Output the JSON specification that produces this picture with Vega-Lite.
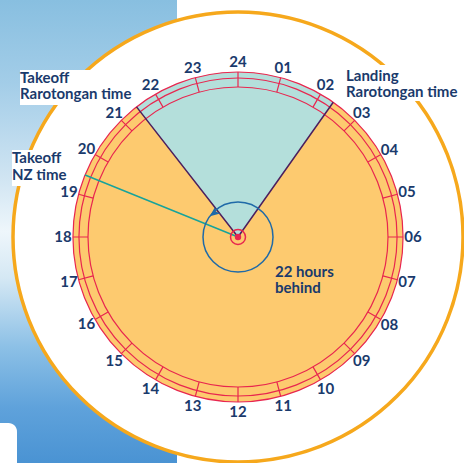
{
  "$schema": "https://vega.github.io/schema/vega-lite/v6.json",
  "width": 452,
  "height": 452,
  "autosize": "none",
  "padding": {"left": 12, "top": 11, "right": 0, "bottom": 0},
  "background": "white",
  "config": {
    "view": {"stroke": null},
    "axis": {"disable": true},
    "legend": {"disable": true},
    "text": {"font": "Lato"}
  },
  "layer": [
    {
      "data": {"values": [{"x": -238, "x2": -61, "y": -226, "y2": 237}]},
      "mark": {"type": "rect", "color": {"gradient": "linear", "x1": 0, "y1": 1, "x2": 0, "y2": 0, "stops": [
        {"offset": 0, "color": "#4a93d3"},
        {"offset": 0.12, "color": "#5fa2db"},
        {"offset": 0.25, "color": "#8cc0e6"},
        {"offset": 0.4, "color": "#d5e8f4"},
        {"offset": 0.5, "color": "#eef6fb"},
        {"offset": 0.62, "color": "#cfe4f2"},
        {"offset": 0.82, "color": "#a3cde8"},
        {"offset": 1, "color": "#88bfe0"}
      ]}},
      "encoding": {
        "x": {"field": "x", "type": "quantitative", "scale": {"domain": [-226, 226], "nice": false, "zero": false}, "axis": null},
        "y": {"field": "y", "type": "quantitative", "scale": {"domain": [-226, 226], "nice": false, "zero": false}, "axis": null},
        "x2": {"field": "x2"}, "y2": {"field": "y2"}
      }
    },
    {
      "data": {"values": [{"x": -238, "x2": -221, "y": -226, "y2": -186}]},
      "mark": {"type": "rect", "color": "white", "cornerRadiusTopRight": 16},
      "encoding": {
        "x": {"field": "x", "type": "quantitative", "scale": {"domain": [-226, 226], "nice": false, "zero": false}, "axis": null},
        "y": {"field": "y", "type": "quantitative", "scale": {"domain": [-226, 226], "nice": false, "zero": false}, "axis": null},
        "x2": {"field": "x2"}, "y2": {"field": "y2"}
      }
    },
    {
      "data": {"values": [{"r": 225}]},
      "mark": {"type": "arc", "fill": "white", "stroke": "#f6a81c", "strokeWidth": 3.5},
      "encoding": {
        "theta": {"datum": 0, "type": "quantitative", "scale": {"domain": [0, 24], "range": [0, 6.28319]}},
        "theta2": {"datum": 24},
        "radius": {"field": "r", "type": "quantitative", "stack": null, "scale": {"type": "linear", "domain": [0, 231.5], "range": [0, 231.5], "zero": true, "nice": false}}
      }
    },
    {
      "data": {"values": [
        {"x": -218, "x2": -103, "y": 167, "y2": 132},
        {"x": 106, "x2": 226, "y": 172, "y2": 136},
        {"x": -226, "x2": -172, "y": 87, "y2": 51}
      ]},
      "mark": {"type": "rect", "color": "white"},
      "encoding": {
        "x": {"field": "x", "type": "quantitative", "scale": {"domain": [-226, 226], "nice": false, "zero": false}, "axis": null},
        "y": {"field": "y", "type": "quantitative", "scale": {"domain": [-226, 226], "nice": false, "zero": false}, "axis": null},
        "x2": {"field": "x2"}, "y2": {"field": "y2"}
      }
    },
    {
      "data": {"values": [{"r": 165}]},
      "mark": {"type": "arc", "color": "#fdca6f"},
      "encoding": {
        "theta": {"datum": 0, "type": "quantitative", "scale": {"domain": [0, 24], "range": [0, 6.28319]}},
        "theta2": {"datum": 24},
        "radius": {"field": "r", "type": "quantitative", "stack": null, "scale": {"type": "linear", "domain": [0, 231.5], "range": [0, 231.5], "zero": true, "nice": false}}
      }
    },
    {
      "data": {"values": [{"start": 21.47, "end": 26.35, "r": 165}]},
      "mark": {"type": "arc", "color": "#b4dfdb"},
      "encoding": {
        "theta": {"field": "start", "type": "quantitative", "scale": {"domain": [0, 24], "range": [0, 6.28319]}, "stack": null},
        "theta2": {"field": "end"},
        "radius": {"field": "r", "type": "quantitative", "stack": null, "scale": {"type": "linear", "domain": [0, 231.5], "range": [0, 231.5], "zero": true, "nice": false}}
      }
    },
    {
      "data": {"values": [{"r": 150}, {"r": 159}, {"r": 165}]},
      "mark": {"type": "arc", "filled": false, "color": "#e8264f", "strokeWidth": 1.2},
      "encoding": {
        "theta": {"datum": 0, "type": "quantitative", "scale": {"domain": [0, 24], "range": [0, 6.28319]}},
        "theta2": {"datum": 24},
        "radius": {"field": "r", "type": "quantitative", "stack": null, "scale": {"type": "linear", "domain": [0, 231.5], "range": [0, 231.5], "zero": true, "nice": false}}
      }
    },
    {
      "data": {"values": [
        {"h": 0}, {"h": 1}, {"h": 2}, {"h": 3}, {"h": 4}, {"h": 5}, {"h": 6}, {"h": 7},
        {"h": 8}, {"h": 9}, {"h": 10}, {"h": 11}, {"h": 12}, {"h": 13}, {"h": 14}, {"h": 15},
        {"h": 16}, {"h": 17}, {"h": 18}, {"h": 19}, {"h": 20}, {"h": 21}, {"h": 22}, {"h": 23}
      ]},
      "mark": {"type": "arc", "filled": false, "color": "#e8264f", "strokeWidth": 1.2},
      "encoding": {
        "theta": {"field": "h", "type": "quantitative", "scale": {"domain": [0, 24], "range": [0, 6.28319]}, "stack": null},
        "theta2": {"field": "h"},
        "radius": {"datum": 165, "type": "quantitative", "scale": {"type": "linear", "domain": [0, 231.5], "range": [0, 231.5], "zero": true, "nice": false}},
        "radius2": {"datum": 150}
      }
    },
    {
      "data": {"values": [
        {"t": 21.47, "kind": "Rarotongan time"},
        {"t": 2.35, "kind": "Rarotongan time"},
        {"t": 19.47, "kind": "NZ time"}
      ]},
      "mark": {"type": "arc", "filled": false, "strokeWidth": 1.5},
      "encoding": {
        "theta": {"field": "t", "type": "quantitative", "scale": {"domain": [0, 24], "range": [0, 6.28319]}, "stack": null},
        "theta2": {"field": "t"},
        "radius": {"datum": 165, "type": "quantitative", "scale": {"type": "linear", "domain": [0, 231.5], "range": [0, 231.5], "zero": true, "nice": false}},
        "radius2": {"datum": 0},
        "color": {"field": "kind", "type": "nominal", "scale": {"domain": ["Rarotongan time", "NZ time"], "range": ["#4b1f5e", "#17a39b"]}, "legend": null}
      }
    },
    {
      "data": {"values": [{"r": 35}]},
      "mark": {"type": "arc", "filled": false, "color": "#1f6aa8", "strokeWidth": 1.5},
      "encoding": {
        "theta": {"datum": 0, "type": "quantitative", "scale": {"domain": [0, 24], "range": [0, 6.28319]}},
        "theta2": {"datum": 24},
        "radius": {"field": "r", "type": "quantitative", "stack": null, "scale": {"type": "linear", "domain": [0, 231.5], "range": [0, 231.5], "zero": true, "nice": false}}
      }
    },
    {
      "data": {"values": [{"x": -24, "y": 24}]},
      "mark": {"type": "point", "shape": "M0,-1L0.8,0.9L0,0.45L-0.8,0.9Z", "filled": true, "opacity": 1, "color": "#1f6aa8", "size": 110, "angle": 232},
      "encoding": {
        "x": {"field": "x", "type": "quantitative", "scale": {"domain": [-226, 226], "nice": false, "zero": false}, "axis": null},
        "y": {"field": "y", "type": "quantitative", "scale": {"domain": [-226, 226], "nice": false, "zero": false}, "axis": null}
      }
    },
    {
      "data": {"values": [{"r": 7.5}]},
      "mark": {"type": "arc", "filled": false, "color": "#e8264f", "strokeWidth": 1.5},
      "encoding": {
        "theta": {"datum": 0, "type": "quantitative", "scale": {"domain": [0, 24], "range": [0, 6.28319]}},
        "theta2": {"datum": 24},
        "radius": {"field": "r", "type": "quantitative", "stack": null, "scale": {"type": "linear", "domain": [0, 231.5], "range": [0, 231.5], "zero": true, "nice": false}}
      }
    },
    {
      "data": {"values": [{"r": 3.2}]},
      "mark": {"type": "arc", "color": "#e8264f"},
      "encoding": {
        "theta": {"datum": 0, "type": "quantitative", "scale": {"domain": [0, 24], "range": [0, 6.28319]}},
        "theta2": {"datum": 24},
        "radius": {"field": "r", "type": "quantitative", "stack": null, "scale": {"type": "linear", "domain": [0, 231.5], "range": [0, 231.5], "zero": true, "nice": false}}
      }
    },
    {
      "data": {"values": [
        {"h": 1, "label": "01"}, {"h": 2, "label": "02"}, {"h": 3, "label": "03"}, {"h": 4, "label": "04"},
        {"h": 5, "label": "05"}, {"h": 6, "label": "06"}, {"h": 7, "label": "07"}, {"h": 8, "label": "08"},
        {"h": 9, "label": "09"}, {"h": 10, "label": "10"}, {"h": 11, "label": "11"}, {"h": 12, "label": "12"},
        {"h": 13, "label": "13"}, {"h": 14, "label": "14"}, {"h": 15, "label": "15"}, {"h": 16, "label": "16"},
        {"h": 17, "label": "17"}, {"h": 18, "label": "18"}, {"h": 19, "label": "19"}, {"h": 20, "label": "20"},
        {"h": 21, "label": "21"}, {"h": 22, "label": "22"}, {"h": 23, "label": "23"}, {"h": 24, "label": "24"}
      ]},
      "mark": {"type": "text", "font": "Lato", "fontWeight": "bold", "fontSize": 15, "color": "#1a3a6c", "align": "center", "baseline": "middle"},
      "encoding": {
        "theta": {"field": "h", "type": "quantitative", "scale": {"domain": [0, 24], "range": [0, 6.28319]}, "stack": null},
        "radius": {"datum": 175, "type": "quantitative", "scale": {"type": "linear", "domain": [0, 231.5], "range": [0, 231.5], "zero": true, "nice": false}},
        "text": {"field": "label", "type": "nominal"}
      }
    },
    {
      "data": {"values": [
        {"x": -218, "y": 154.5, "text": "Takeoff"},
        {"x": -218, "y": 138.5, "text": "Rarotongan time"},
        {"x": 108, "y": 156.3, "text": "Landing"},
        {"x": 108, "y": 140.3, "text": "Rarotongan time"},
        {"x": -226, "y": 73.7, "text": "Takeoff"},
        {"x": -226, "y": 57, "text": "NZ time"},
        {"x": 37, "y": -40, "text": "22 hours"},
        {"x": 37, "y": -56, "text": "behind"}
      ]},
      "mark": {"type": "text", "font": "Lato", "fontWeight": "bold", "fontSize": 15, "color": "#1a3a6c", "align": "left", "baseline": "alphabetic"},
      "encoding": {
        "x": {"field": "x", "type": "quantitative", "scale": {"domain": [-226, 226], "nice": false, "zero": false}, "axis": null},
        "y": {"field": "y", "type": "quantitative", "scale": {"domain": [-226, 226], "nice": false, "zero": false}, "axis": null},
        "text": {"field": "text", "type": "nominal"}
      }
    }
  ]
}
